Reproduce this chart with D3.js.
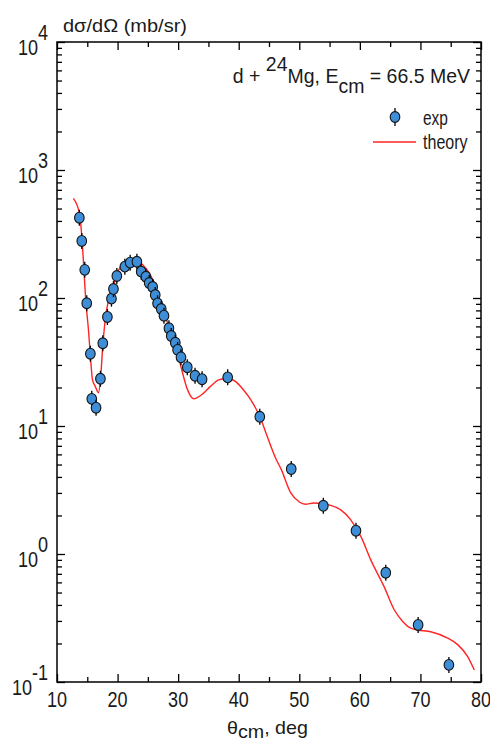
<!DOCTYPE html>
<html lang="en">
<head>
    <meta charset="UTF-8">
    <title>d + 24Mg elastic scattering</title>
    <script src="https://d3js.org/d3.v7.min.js"></script>
    <style>
        body { margin: 0; background: #fff; }
        svg { display: block; }
        text { font-family: "Liberation Sans", Arial, sans-serif; fill: #1a1a1a; }
        .axis .domain { display: none; }
        .axis line { stroke: #000; stroke-width: 1.3; }
    </style>
</head>
<body>
    <svg width="490" height="742"></svg>

    <script>
        // experimental points (theta_cm in deg, dsigma/dOmega in mb/sr)
        const expTheta = [13.69, 14.09, 14.58, 14.91, 15.51, 15.74, 16.45, 17.17, 17.56, 18.32,
                          18.99, 19.32, 19.88, 21.2, 22.08, 23.19, 23.9, 24.68, 25.22, 25.8,
                          26.22, 26.6, 27.21, 27.66, 28.48, 28.86, 29.53, 29.91, 30.47, 31.51,
                          32.79, 33.95, 38.18, 43.48, 48.67, 53.97, 59.36, 64.28, 69.62, 74.7];
        const expSigma = [424, 279, 166, 91, 36.7, 16.3, 13.9, 23.4, 44.3, 71.1,
                          98.8, 117.5, 148.6, 175.8, 188.8, 192, 160.6, 146.6, 130.9, 121.8,
                          105.5, 90.8, 82.0, 72.7, 58.0, 50.5, 44.7, 39.3, 34.4, 28.8,
                          24.7, 23.2, 24.0, 11.8, 4.61, 2.38, 1.52, 0.714, 0.279, 0.136];

        // theory curve
        const thTheta = [12.7, 13.7, 14.1, 14.35, 14.75, 15.2, 15.6, 15.85, 16.3, 16.85,
                         17.2, 17.55, 17.95, 18.5, 19.3, 19.7, 20.7, 21.5, 22.6, 23.7,
                         24.6, 25.4, 26.5, 27.6, 28.7, 29.8, 30.6, 31.5, 32.6, 33.7,
                         35.3, 36.7, 38.1, 39.5, 40.8, 42.0, 43.6, 44.7, 46.1, 47.0,
                         48.6, 50.0, 51.0, 52.4, 55.2, 56.9, 58.5, 60.2, 61.8, 64.0,
                         65.7, 67.0, 68.4, 69.5, 71.7, 74.5, 76.2, 77.8, 78.9];
        const thSigma = [600, 459, 301, 198, 96, 56, 31, 23, 20.5, 18.2,
                         24, 41.6, 67, 96, 123, 145, 182, 196, 200, 190,
                         172, 152, 112, 78, 56, 39, 27.4, 19.5, 16.3, 17.3,
                         20.3, 22.9, 23.6, 22.2, 19.1, 16, 11.5, 8.3, 5.6, 4.6,
                         3.0, 2.55, 2.45, 2.5, 2.4, 2.2, 1.85, 1.36, 0.90, 0.556,
                         0.365, 0.30, 0.263, 0.255, 0.247, 0.22, 0.195, 0.158, 0.124];

        const xMajor = [10, 20, 30, 40, 50, 60, 70, 80];
        const yDecades = [-1, 0, 1, 2, 3, 4];

        const pLeft = 57, pRight = 481, pTop = 42, pBottom = 682;
        const svg = d3.select("svg");

        const x = d3.scaleLinear().domain([10, 80]).range([pLeft, pRight]);
        const y = d3.scaleLog().domain([0.1, 1e4]).range([pBottom, pTop]);

        const xMinor = d3.range(15, 80, 10);
        const yMinor = [];
        yDecades.slice(0, -1).forEach(p => {
            for (let k = 2; k <= 9; k++) yMinor.push(k * Math.pow(10, p));
        });
        const yMajorVals = yDecades.map(p => Math.pow(10, p));

        // ticks, all pointing inward
        const addAxis = (axis, tx, ty) => svg.append("g")
            .attr("class", "axis")
            .attr("transform", `translate(${tx},${ty})`)
            .call(axis)
            .call(g => g.selectAll("text").remove());

        addAxis(d3.axisBottom(x).tickValues(xMajor).tickSize(-8).tickSizeOuter(0), 0, pBottom);
        addAxis(d3.axisBottom(x).tickValues(xMinor).tickSize(-5).tickSizeOuter(0), 0, pBottom);
        addAxis(d3.axisTop(x).tickValues(xMajor).tickSize(-8).tickSizeOuter(0), 0, pTop);
        addAxis(d3.axisTop(x).tickValues(xMinor).tickSize(-5).tickSizeOuter(0), 0, pTop);
        addAxis(d3.axisLeft(y).tickValues(yMajorVals).tickSize(-8).tickSizeOuter(0), pLeft, 0);
        addAxis(d3.axisLeft(y).tickValues(yMinor).tickSize(-5).tickSizeOuter(0), pLeft, 0);
        addAxis(d3.axisRight(y).tickValues(yMajorVals).tickSize(-8).tickSizeOuter(0), pRight, 0);
        addAxis(d3.axisRight(y).tickValues(yMinor).tickSize(-5).tickSizeOuter(0), pRight, 0);

        svg.append("rect")
            .attr("x", pLeft).attr("y", pTop)
            .attr("width", pRight - pLeft).attr("height", pBottom - pTop)
            .attr("fill", "none").attr("stroke", "#000").attr("stroke-width", 1.5);

        // text helper: parts = [{t, dy}], optional horizontal fit
        function label(tx, ty, anchor, size, parts, fitW) {
            const g = svg.append("g").attr("transform", `translate(${tx},${ty})`);
            const t = g.append("text").attr("font-size", size).attr("text-anchor", anchor);
            parts.forEach(p => t.append("tspan").attr("dy", p.dy || 0).text(p.t));
            if (fitW) {
                const w = t.node().getBBox().width;
                g.attr("transform", `translate(${tx},${ty}) scale(${fitW / w},1)`);
            } else {
                g.attr("transform", `translate(${tx},${ty}) scale(0.82,1)`);
            }
            return g;
        }

        // x tick labels
        xMajor.forEach(v => label(x(v), pBottom + 25, "middle", 22, [{t: String(v)}]));
        // y tick labels
        yDecades.forEach(p => label(pLeft - 9, y(Math.pow(10, p)) + 13, "end", 22,
            [{t: "10"}, {t: String(p), dy: -15}]));

        // axis titles
        label(63, 32, "start", 19, [{t: "dσ/dΩ (mb/sr)"}], 124);
        label(227, 734, "start", 19, [{t: "θ"}, {t: "cm", dy: 4}, {t: ", deg", dy: -4}], 81);

        // reaction label
        label(470, 83, "end", 20, [{t: "d + "}, {t: "24", dy: -12}, {t: "Mg, E", dy: 12},
            {t: "cm", dy: 10}, {t: " = 66.5 MeV", dy: -10}], 238);

        // theory curve
        const line = d3.line()
            .x(d => x(d[0]))
            .y(d => y(d[1]))
            .curve(d3.curveMonotoneX);

        svg.append("path")
            .datum(d3.zip(thTheta, thSigma))
            .attr("d", line)
            .attr("fill", "none")
            .attr("stroke", "#ff2424")
            .attr("stroke-width", 1.4);

        // experimental points with error bars
        const pts = svg.append("g").selectAll("g")
            .data(d3.zip(expTheta, expSigma))
            .join("g")
            .attr("transform", d => `translate(${x(d[0])},${y(d[1])})`);

        pts.append("line")
            .attr("y1", -8).attr("y2", 8)
            .attr("stroke", "#000").attr("stroke-width", 1.3);
        pts.append("ellipse")
            .attr("rx", 4.8).attr("ry", 5.4)
            .attr("fill", "#3d8ed6")
            .attr("stroke", "#111").attr("stroke-width", 1.1);

        // legend
        const lg = svg.append("g").attr("transform", "translate(395,117)");
        lg.append("line").attr("y1", -9).attr("y2", 9).attr("stroke", "#000").attr("stroke-width", 1.3);
        lg.append("ellipse").attr("rx", 4.8).attr("ry", 5.4)
            .attr("fill", "#3d8ed6").attr("stroke", "#111").attr("stroke-width", 1.1);
        svg.append("line")
            .attr("x1", 373).attr("x2", 416).attr("y1", 142).attr("y2", 142)
            .attr("stroke", "#ff2424").attr("stroke-width", 1.4);
        label(423, 125, "start", 20, [{t: "exp"}], 25);
        label(423, 149, "start", 21, [{t: "theory"}], 45);
    </script>
</body>
</html>
